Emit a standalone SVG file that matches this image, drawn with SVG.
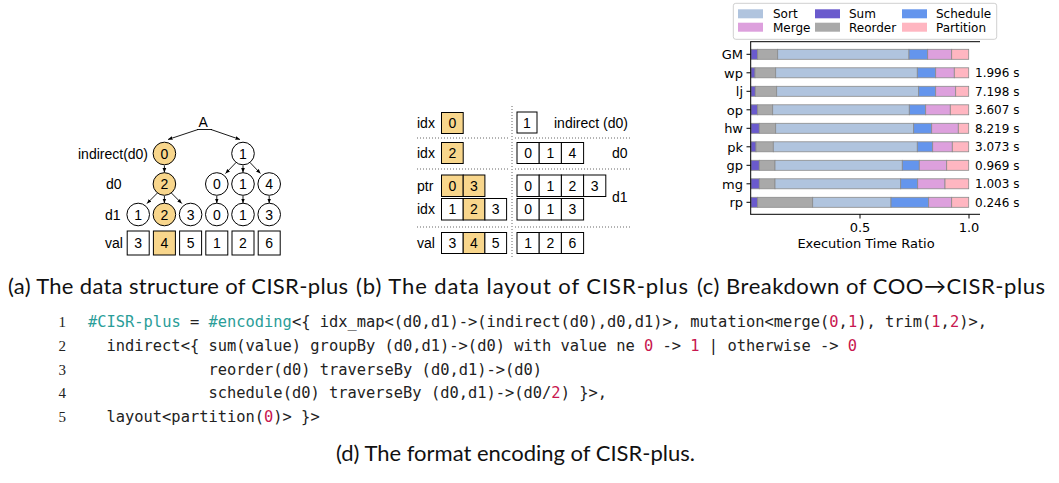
<svg xmlns="http://www.w3.org/2000/svg" width="1059" height="483" viewBox="0 0 1059 483">
<style>
.s{font-family:"Liberation Sans",Arial,sans-serif;font-size:14px;fill:#000}
.c{text-anchor:middle}
.nd{fill:#fff;stroke:#000;stroke-width:1}
.hl{fill:#f8d68c;stroke:#000;stroke-width:1}
.bx{fill:#fff;stroke:#000;stroke-width:1}
.ar{stroke:#000;stroke-width:0.9;fill:none;marker-end:url(#ah)}
.dot{stroke:#666;stroke-width:1;stroke-dasharray:1 2;fill:none}
.m{font-family:"DejaVu Sans",sans-serif;font-size:13px;fill:#000}
.lg{font-family:"DejaVu Sans",sans-serif;font-size:12px;fill:#000}
.bar{stroke:#8a8a8a;stroke-width:0.8}
.su{fill:#6a5acd}.re{fill:#a9a9a9}.so{fill:#b0c4de}.sc{fill:#6495ed}.me{fill:#dda0dd}.pa{fill:#ffb6c1}
.cap{font-family:Lato,"Open Sans",sans-serif;font-size:22px;fill:#111}
.code{font-family:"DejaVu Sans Mono","Liberation Mono",monospace;font-size:15.4px;fill:#222}
.ln{font-family:"Liberation Serif",serif;font-size:15px;fill:#222;text-anchor:end}
.k{fill:#2a9d98}.r{fill:#c8174f}
</style>
<defs>
<marker id="ah" viewBox="0 0 6 6" refX="6" refY="3" markerWidth="4.5" markerHeight="4.5" markerUnits="userSpaceOnUse" orient="auto"><path d="M0,0.5 L6,3 L0,5.5 z" fill="#000"/></marker>
</defs>

<!-- (a) tree -->
<g id="tree-labels" class="s">
<text x="198.5" y="127">A</text>
<text x="78" y="158.5">indirect(d0)</text>
<text x="106" y="189">d0</text>
<text x="105" y="219.5">d1</text>
<text x="105" y="248">val</text>
</g>
<g id="tree-connectors">
<line x1="197" y1="129.5" x2="212" y2="129.5" stroke="#000" stroke-width="0.9"/>
<line class="ar" x1="198" y1="129.5" x2="168" y2="139.5"/>
<line class="ar" x1="211" y1="129.5" x2="240" y2="139.5"/>
<line class="ar" x1="164.4" y1="165.5" x2="164.4" y2="172.6"/>
<line class="ar" x1="236" y1="162.5" x2="225.5" y2="173.5"/>
<line class="ar" x1="243" y1="165.5" x2="243" y2="172.6"/>
<line class="ar" x1="250" y1="162.5" x2="260.5" y2="173.5"/>
<line class="ar" x1="157.4" y1="193" x2="147" y2="203.5"/>
<line class="ar" x1="164.4" y1="196" x2="164.4" y2="203.1"/>
<line class="ar" x1="171.4" y1="193" x2="181.8" y2="203.5"/>
<line class="ar" x1="216.8" y1="196" x2="216.8" y2="203.1"/>
<line class="ar" x1="243" y1="196" x2="243" y2="203.1"/>
<line class="ar" x1="269.2" y1="196" x2="269.2" y2="203.1"/>
</g>
<g id="ind-0" class="s c"><circle class="hl" cx="164.4" cy="153.5" r="11.3"/><text x="164.4" y="158.5">0</text></g>
<g id="ind-1" class="s c"><circle class="nd" cx="243" cy="153.5" r="11.3"/><text x="243" y="158.5">1</text></g>
<g id="d0-2" class="s c"><circle class="hl" cx="164.4" cy="184" r="11.3"/><text x="164.4" y="189">2</text></g>
<g id="d0-0" class="s c"><circle class="nd" cx="216.8" cy="184" r="11.3"/><text x="216.8" y="189">0</text></g>
<g id="d0-1" class="s c"><circle class="nd" cx="243" cy="184" r="11.3"/><text x="243" y="189">1</text></g>
<g id="d0-4" class="s c"><circle class="nd" cx="269.2" cy="184" r="11.3"/><text x="269.2" y="189">4</text></g>
<g id="d1-a1" class="s c"><circle class="nd" cx="138.2" cy="214.5" r="11.3"/><text x="138.2" y="219.5">1</text></g>
<g id="d1-a2" class="s c"><circle class="hl" cx="164.4" cy="214.5" r="11.3"/><text x="164.4" y="219.5">2</text></g>
<g id="d1-a3" class="s c"><circle class="nd" cx="190.6" cy="214.5" r="11.3"/><text x="190.6" y="219.5">3</text></g>
<g id="d1-b0" class="s c"><circle class="nd" cx="216.8" cy="214.5" r="11.3"/><text x="216.8" y="219.5">0</text></g>
<g id="d1-b1" class="s c"><circle class="nd" cx="243" cy="214.5" r="11.3"/><text x="243" y="219.5">1</text></g>
<g id="d1-b3" class="s c"><circle class="nd" cx="269.2" cy="214.5" r="11.3"/><text x="269.2" y="219.5">3</text></g>
<g id="tree-val" class="s c">
<rect class="bx" x="127.2" y="231" width="22" height="24"/><text x="138.2" y="248">3</text>
<rect class="hl" x="153.4" y="231" width="22" height="24"/><text x="164.4" y="248">4</text>
<rect class="bx" x="179.6" y="231" width="22" height="24"/><text x="190.6" y="248">5</text>
<rect class="bx" x="205.8" y="231" width="22" height="24"/><text x="216.8" y="248">1</text>
<rect class="bx" x="232" y="231" width="22" height="24"/><text x="243" y="248">2</text>
<rect class="bx" x="258.2" y="231" width="22" height="24"/><text x="269.2" y="248">6</text>
</g>

<!-- (b) layout -->
<g id="layout-grid">
<line class="dot" x1="417" y1="138" x2="509" y2="138"/>
<line class="dot" x1="417" y1="169" x2="509" y2="169"/>
<line class="dot" x1="417" y1="227" x2="509" y2="227"/>
<line class="dot" x1="515" y1="138" x2="630" y2="138"/>
<line class="dot" x1="515" y1="169" x2="630" y2="169"/>
<line class="dot" x1="515" y1="227" x2="630" y2="227"/>
<line class="dot" x1="512" y1="106" x2="512" y2="257"/>
</g>
<g id="layout-labels" class="s">
<text x="417" y="128">idx</text>
<text x="417" y="158">idx</text>
<text x="417" y="190.5">ptr</text>
<text x="417" y="214">idx</text>
<text x="417" y="248">val</text>
<text x="554" y="128">indirect (d0)</text>
<text x="612" y="158">d0</text>
<text x="612" y="202">d1</text>
</g>
<g id="lay-ind-idx" class="s c"><rect class="hl" x="441.5" y="112.5" width="21.7" height="21"/><text x="452.3" y="128">0</text></g>
<g id="lay-d0-idx" class="s c"><rect class="hl" x="441.5" y="142.5" width="21.7" height="21"/><text x="452.3" y="158">2</text></g>
<g id="lay-d1-ptr" class="s c">
<rect class="hl" x="441.5" y="175" width="21.7" height="21.5"/><text x="452.3" y="190.7">0</text>
<rect class="hl" x="463.2" y="175" width="21.7" height="21.5"/><text x="474" y="190.7">3</text>
</g>
<g id="lay-d1-idx" class="s c">
<rect class="bx" x="441.5" y="198.5" width="21.7" height="21.5"/><text x="452.3" y="214.2">1</text>
<rect class="hl" x="463.2" y="198.5" width="21.7" height="21.5"/><text x="474" y="214.2">2</text>
<rect class="bx" x="484.9" y="198.5" width="21.7" height="21.5"/><text x="495.7" y="214.2">3</text>
</g>
<g id="lay-val" class="s c">
<rect class="bx" x="441.5" y="232.5" width="21.7" height="21"/><text x="452.3" y="248">3</text>
<rect class="hl" x="463.2" y="232.5" width="21.7" height="21"/><text x="474" y="248">4</text>
<rect class="bx" x="484.9" y="232.5" width="21.7" height="21"/><text x="495.7" y="248">5</text>
</g>
<g id="lay-r-ind" class="s c"><rect class="bx" x="517" y="112" width="20" height="21"/><text x="527" y="128">1</text></g>
<g id="lay-r-d0" class="s c">
<rect class="bx" x="517" y="142.5" width="22.2" height="21"/><text x="528.1" y="158">0</text>
<rect class="bx" x="539.2" y="142.5" width="22.2" height="21"/><text x="550.3" y="158">1</text>
<rect class="bx" x="561.4" y="142.5" width="22.2" height="21"/><text x="572.5" y="158">4</text>
</g>
<g id="lay-r-d1ptr" class="s c">
<rect class="bx" x="517" y="175" width="22.2" height="21.5"/><text x="528.1" y="190.7">0</text>
<rect class="bx" x="539.2" y="175" width="22.2" height="21.5"/><text x="550.3" y="190.7">1</text>
<rect class="bx" x="561.4" y="175" width="22.2" height="21.5"/><text x="572.5" y="190.7">2</text>
<rect class="bx" x="583.6" y="175" width="22.2" height="21.5"/><text x="594.7" y="190.7">3</text>
</g>
<g id="lay-r-d1idx" class="s c">
<rect class="bx" x="517" y="198.5" width="22.2" height="21.5"/><text x="528.1" y="214.2">0</text>
<rect class="bx" x="539.2" y="198.5" width="22.2" height="21.5"/><text x="550.3" y="214.2">1</text>
<rect class="bx" x="561.4" y="198.5" width="22.2" height="21.5"/><text x="572.5" y="214.2">3</text>
</g>
<g id="lay-r-val" class="s c">
<rect class="bx" x="517" y="232.5" width="22.2" height="21"/><text x="528.1" y="248">1</text>
<rect class="bx" x="539.2" y="232.5" width="22.2" height="21"/><text x="550.3" y="248">2</text>
<rect class="bx" x="561.4" y="232.5" width="22.2" height="21"/><text x="572.5" y="248">6</text>
</g>

<!-- (c) chart -->
<g id="legend">
<rect x="733.3" y="3.3" width="263.4" height="36" rx="2.5" fill="#fff" stroke="#d0d0d0" stroke-width="1"/>
<rect class="so" x="738" y="9.3" width="25" height="9"/><text class="lg" x="773" y="18.4">Sort</text>
<rect class="me" x="738" y="22.7" width="25" height="9"/><text class="lg" x="773" y="31.6">Merge</text>
<rect class="su" x="815" y="9.3" width="25" height="9"/><text class="lg" x="849" y="18.4">Sum</text>
<rect class="re" x="815" y="22.7" width="25" height="9"/><text class="lg" x="849" y="31.6">Reorder</text>
<rect class="sc" x="902" y="9.3" width="25" height="9"/><text class="lg" x="936" y="18.4">Schedule</text>
<rect class="pa" x="902" y="22.7" width="25" height="9"/><text class="lg" x="936" y="31.6">Partition</text>
</g>
<g id="bars" class="bar">
<g transform="translate(0,49.3)"><rect class="su" x="751" width="6.7" height="10"/><rect class="re" x="757.7" width="20" height="10"/><rect class="so" x="777.7" width="131.3" height="10"/><rect class="sc" x="909" width="18.7" height="10"/><rect class="me" x="927.7" width="24" height="10"/><rect class="pa" x="951.7" width="17" height="10"/></g>
<g transform="translate(0,67.8)"><rect class="su" x="751" width="4" height="10"/><rect class="re" x="755" width="20.7" height="10"/><rect class="so" x="775.7" width="141.6" height="10"/><rect class="sc" x="917.3" width="18.4" height="10"/><rect class="me" x="935.7" width="18.6" height="10"/><rect class="pa" x="954.3" width="14.4" height="10"/></g>
<g transform="translate(0,86.3)"><rect class="su" x="751" width="4.3" height="10"/><rect class="re" x="755.3" width="21.4" height="10"/><rect class="so" x="776.7" width="142" height="10"/><rect class="sc" x="918.7" width="17" height="10"/><rect class="me" x="935.7" width="20" height="10"/><rect class="pa" x="955.7" width="13" height="10"/></g>
<g transform="translate(0,104.8)"><rect class="su" x="751" width="6.7" height="10"/><rect class="re" x="757.7" width="15" height="10"/><rect class="so" x="772.7" width="136.6" height="10"/><rect class="sc" x="909.3" width="16.4" height="10"/><rect class="me" x="925.7" width="24.6" height="10"/><rect class="pa" x="950.3" width="18.4" height="10"/></g>
<g transform="translate(0,123.3)"><rect class="su" x="751" width="8.3" height="10"/><rect class="re" x="759.3" width="16.4" height="10"/><rect class="so" x="775.7" width="138" height="10"/><rect class="sc" x="913.7" width="18" height="10"/><rect class="me" x="931.7" width="26.6" height="10"/><rect class="pa" x="958.3" width="10.4" height="10"/></g>
<g transform="translate(0,141.8)"><rect class="su" x="751" width="5" height="10"/><rect class="re" x="756" width="17.3" height="10"/><rect class="so" x="773.3" width="144" height="10"/><rect class="sc" x="917.3" width="15.4" height="10"/><rect class="me" x="932.7" width="19.6" height="10"/><rect class="pa" x="952.3" width="16.4" height="10"/></g>
<g transform="translate(0,160.3)"><rect class="su" x="751" width="8.3" height="10"/><rect class="re" x="759.3" width="15.7" height="10"/><rect class="so" x="775" width="127.3" height="10"/><rect class="sc" x="902.3" width="17" height="10"/><rect class="me" x="919.3" width="27.4" height="10"/><rect class="pa" x="946.7" width="22" height="10"/></g>
<g transform="translate(0,178.8)"><rect class="su" x="751" width="8.3" height="10"/><rect class="re" x="759.3" width="15.7" height="10"/><rect class="so" x="775" width="125.7" height="10"/><rect class="sc" x="900.7" width="17" height="10"/><rect class="me" x="917.7" width="27.3" height="10"/><rect class="pa" x="945" width="23.7" height="10"/></g>
<g transform="translate(0,197.3)"><rect class="su" x="751" width="6.7" height="10"/><rect class="re" x="757.7" width="55" height="10"/><rect class="so" x="812.7" width="78.3" height="10"/><rect class="sc" x="891" width="37.7" height="10"/><rect class="me" x="928.7" width="23" height="10"/><rect class="pa" x="951.7" width="17" height="10"/></g>
</g>
<g id="axes" stroke="#000" stroke-width="1">
<line x1="750.7" y1="41.7" x2="750.7" y2="214.3"/>
<line x1="750.2" y1="41.7" x2="980" y2="41.7"/>
<line x1="750.2" y1="214.3" x2="980" y2="214.3"/>
<path d="M746.5,54.3h4.2M746.5,72.8h4.2M746.5,91.3h4.2M746.5,109.8h4.2M746.5,128.3h4.2M746.5,146.8h4.2M746.5,165.3h4.2M746.5,183.8h4.2M746.5,202.3h4.2M860,214.3v4.2M969,214.3v4.2"/>
</g>
<g id="axis-labels" class="m">
<text x="743" y="59" text-anchor="end">GM</text>
<text x="743" y="77.5" text-anchor="end">wp</text>
<text x="743" y="96" text-anchor="end">lj</text>
<text x="743" y="114.5" text-anchor="end">op</text>
<text x="743" y="133" text-anchor="end">hw</text>
<text x="743" y="151.5" text-anchor="end">pk</text>
<text x="743" y="170" text-anchor="end">gp</text>
<text x="743" y="188.5" text-anchor="end">mg</text>
<text x="743" y="207" text-anchor="end">rp</text>
<text x="860" y="231.7" text-anchor="middle">0.5</text>
<text x="969" y="231.7" text-anchor="middle">1.0</text>
<text x="866" y="248.3" text-anchor="middle">Execution Time Ratio</text>
</g>
<g id="times" class="lg">
<text x="975" y="77.2">1.996 s</text>
<text x="975" y="95.7">7.198 s</text>
<text x="975" y="114.2">3.607 s</text>
<text x="975" y="132.7">8.219 s</text>
<text x="975" y="151.2">3.073 s</text>
<text x="975" y="169.7">0.969 s</text>
<text x="975" y="188.2">1.003 s</text>
<text x="975" y="206.7">0.246 s</text>
</g>

<!-- captions -->
<g id="captions" class="cap">
<text x="8" y="294" textLength="340">(a) The data structure of CISR-plus</text>
<text x="356" y="294" textLength="332">(b) The data layout of CISR-plus</text>
<text x="697" y="294" textLength="348">(c) Breakdown of COO→CISR-plus</text>
<text x="336" y="461">(d) The format encoding of CISR-plus.</text>
</g>

<!-- (d) code -->
<g id="code">
<text class="ln" x="66" y="327">1</text>
<text class="ln" x="66" y="351">2</text>
<text class="ln" x="66" y="374.5">3</text>
<text class="ln" x="66" y="398">4</text>
<text class="ln" x="66" y="421.5">5</text>
<text class="code" x="88" y="327"><tspan class="k">#CISR-plus</tspan> = <tspan class="k">#encoding</tspan>&lt;{ idx_map&lt;(d0,d1)-&gt;(indirect(d0),d0,d1)&gt;, mutation&lt;merge(<tspan class="r">0</tspan>,<tspan class="r">1</tspan>), trim(<tspan class="r">1</tspan>,<tspan class="r">2</tspan>)&gt;,</text>
<text class="code" x="106.5" y="351">indirect&lt;{ sum(value) groupBy (d0,d1)-&gt;(d0) with value ne <tspan class="r">0</tspan> -&gt; <tspan class="r">1</tspan> | otherwise -&gt; <tspan class="r">0</tspan></text>
<text class="code" x="208.5" y="374.5">reorder(d0) traverseBy (d0,d1)-&gt;(d0)</text>
<text class="code" x="208.5" y="398">schedule(d0) traverseBy (d0,d1)-&gt;(d0/<tspan class="r">2</tspan>) }&gt;,</text>
<text class="code" x="106.5" y="421.5">layout&lt;partition(<tspan class="r">0</tspan>)&gt; }&gt;</text>
</g>
</svg>
